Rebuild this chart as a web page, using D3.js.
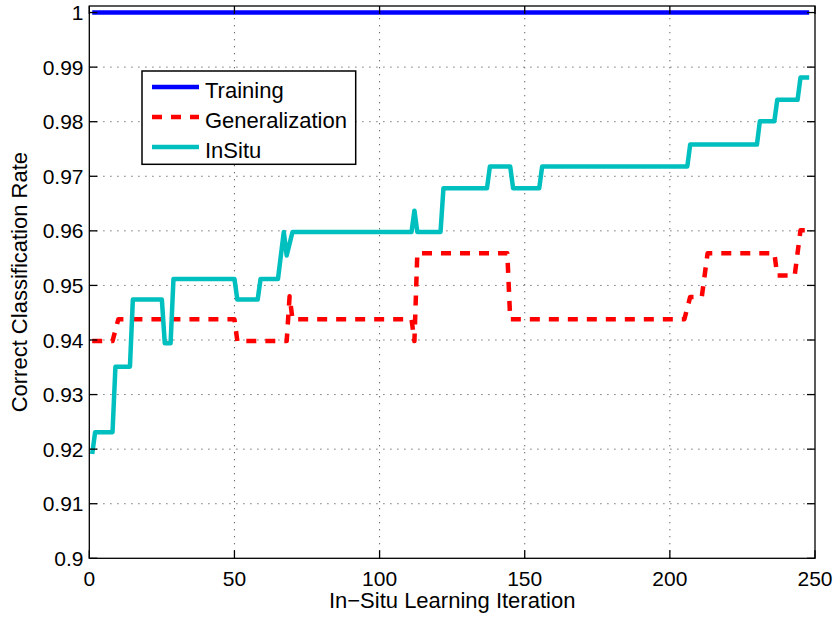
<!DOCTYPE html>
<html>
<head>
<meta charset="utf-8">
<script src="https://cdn.jsdelivr.net/npm/d3@7"></script>
<style>
  html, body { margin: 0; padding: 0; background: #fff; }
  svg { display: block; }
  text { font-family: "Liberation Sans", Arial, Helvetica, sans-serif; fill: #000; }
</style>
</head>
<body>
<svg id="chart" width="836" height="619"></svg>
<script>
// Correct classification rate per in-situ learning iteration (vertices of each step line)
const trainIter = [1, 248];
const trainRate = [1.0, 1.0];

const genIter = [1, 8, 10, 50, 51, 68, 69, 70, 111, 112, 113, 144, 145, 205, 207, 211, 213, 236, 237, 243, 245, 248];
const genRate = [0.9398, 0.9398, 0.9438, 0.9438, 0.9398, 0.9398, 0.9480, 0.9438, 0.9438, 0.9398, 0.9559,
                 0.9559, 0.9438, 0.9438, 0.9479, 0.9479, 0.9559, 0.9559, 0.9518, 0.9518, 0.9601, 0.9601];

const insituIter = [1, 2, 8, 9, 14, 15, 25, 26, 28, 29, 50, 51, 58, 59, 65, 67, 68, 70, 111, 112, 113,
                    121, 122, 137, 138, 145, 146, 155, 156, 206, 207, 230, 231, 236, 237, 244, 245, 248];
const insituRate = [0.9191, 0.9231, 0.9231, 0.9351, 0.9351, 0.9474, 0.9474, 0.9394, 0.9394, 0.9512,
                    0.9512, 0.9474, 0.9474, 0.9512, 0.9512, 0.9598, 0.9555, 0.9598, 0.9598, 0.9637, 0.9598,
                    0.9598, 0.9678, 0.9678, 0.9718, 0.9718, 0.9678, 0.9678, 0.9718, 0.9718, 0.9758,
                    0.9758, 0.9801, 0.9801, 0.9840, 0.9840, 0.9881, 0.9881];

const xTicks = [0, 50, 100, 150, 200, 250];
const yTicks = [0.9, 0.91, 0.92, 0.93, 0.94, 0.95, 0.96, 0.97, 0.98, 0.99, 1];
const yTickLabels = ["0.9", "0.91", "0.92", "0.93", "0.94", "0.95", "0.96", "0.97", "0.98", "0.99", "1"];

const seriesNames = ["Training", "Generalization", "InSitu"];
const seriesColors = ["#0000ff", "#ff0000", "#00bfbf"];

const svg = d3.select("#chart");
const plotL = 89.3, plotR = 815, plotT = 6, plotB = 558.3;

const x = d3.scaleLinear().domain([0, 250]).range([plotL, plotR]);
const y = d3.scaleLinear().domain([0.9, 1.0012]).range([plotB, plotT]);

svg.append("rect").attr("width", 836).attr("height", 619).attr("fill", "#fff");

// dotted grid
const grid = svg.append("g").attr("stroke", "#555").attr("stroke-width", 1)
  .attr("stroke-dasharray", "1.2,5.8");
grid.selectAll("line.gx").data(xTicks.slice(1, -1)).join("line")
  .attr("x1", d => x(d)).attr("x2", d => x(d)).attr("y1", plotB).attr("y2", plotT);
grid.selectAll("line.gy").data(yTicks.slice(1)).join("line")
  .attr("y1", d => y(d)).attr("y2", d => y(d)).attr("x1", plotL).attr("x2", plotR);

// series lines
const line = d3.line().x(d => x(d[0])).y(d => y(d[1]));
const zip = (a, b) => a.map((v, i) => [v, b[i]]);

svg.append("path").datum(zip(trainIter, trainRate))
  .attr("d", line).attr("fill", "none").attr("stroke", seriesColors[0]).attr("stroke-width", 4.5);

svg.append("path").datum(zip(genIter, genRate))
  .attr("d", line).attr("fill", "none").attr("stroke", seriesColors[1]).attr("stroke-width", 4.5)
  .attr("stroke-dasharray", "10,9").attr("stroke-linejoin", "round");

svg.append("path").datum(zip(insituIter, insituRate))
  .attr("d", line).attr("fill", "none").attr("stroke", seriesColors[2]).attr("stroke-width", 4.5)
  .attr("stroke-linejoin", "round");

// axes box with inward ticks
const axes = svg.append("g").attr("stroke", "#000").attr("stroke-width", 1.3).attr("fill", "none");
axes.append("rect").attr("x", plotL).attr("y", plotT).attr("width", plotR - plotL).attr("height", plotB - plotT);
const tl = 8;
xTicks.forEach(t => {
  axes.append("line").attr("x1", x(t)).attr("x2", x(t)).attr("y1", plotB).attr("y2", plotB - tl);
  axes.append("line").attr("x1", x(t)).attr("x2", x(t)).attr("y1", plotT).attr("y2", plotT + tl);
});
yTicks.forEach(t => {
  axes.append("line").attr("y1", y(t)).attr("y2", y(t)).attr("x1", plotL).attr("x2", plotL + tl);
  axes.append("line").attr("y1", y(t)).attr("y2", y(t)).attr("x1", plotR).attr("x2", plotR - tl);
});

// tick labels
svg.append("g").selectAll("text").data(xTicks).join("text")
  .attr("x", d => x(d)).attr("y", 585.5).attr("text-anchor", "middle")
  .attr("font-size", 21).text(d => d);
svg.append("g").selectAll("text").data(yTicks).join("text")
  .attr("x", 83.5).attr("y", d => y(d) + 7.6).attr("text-anchor", "end")
  .attr("font-size", 21).text((d, i) => yTickLabels[i]);

// axis titles
svg.append("text").attr("x", (plotL + plotR) / 2).attr("y", 608.3).attr("text-anchor", "middle")
  .attr("font-size", 22).text("In\u2212Situ Learning Iteration");
svg.append("text").attr("transform", `translate(27.3,${(plotT + plotB) / 2}) rotate(-90)`)
  .attr("text-anchor", "middle").attr("font-size", 22).text("Correct Classification Rate");

// legend
const lg = svg.append("g");
lg.append("rect").attr("x", 142).attr("y", 71).attr("width", 213.7).attr("height", 93.3)
  .attr("fill", "#fff").attr("stroke", "#000").attr("stroke-width", 1.5);
const rowY = [87, 117, 147];
seriesNames.forEach((name, i) => {
  const l = lg.append("line").attr("x1", 152).attr("x2", 199).attr("y1", rowY[i]).attr("y2", rowY[i])
    .attr("stroke", seriesColors[i]).attr("stroke-width", 4.5);
  if (i === 1) l.attr("stroke-dasharray", "10,9");
  lg.append("text").attr("x", 205).attr("y", rowY[i] + 10.5).attr("font-size", 22).text(name);
});
</script>
</body>
</html>
